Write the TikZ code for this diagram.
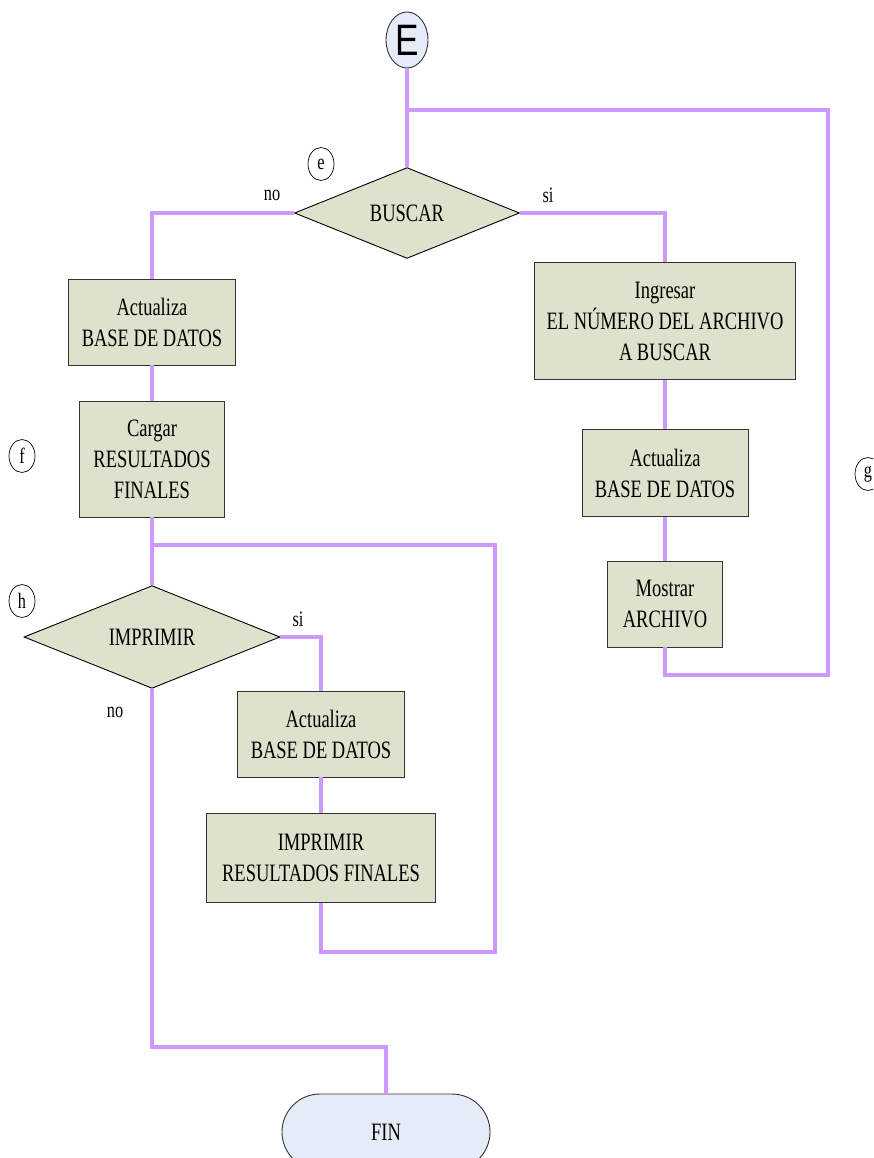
\documentclass[tikz,border=0pt]{standalone}
\usepackage{fontspec}
\setmainfont{Liberation Serif}[FakeStretch=0.74]
\newfontfamily\headfont{Liberation Sans}[FakeStretch=0.8]
\usetikzlibrary{shapes.geometric,shapes.misc}
\definecolor{flow}{HTML}{CC99FF}
\definecolor{boxfill}{HTML}{DEE1CB}
\definecolor{termfill}{HTML}{E6ECF7}
\definecolor{edge}{HTML}{333333}

\begin{document}
\begin{tikzpicture}[x=1pt,y=-1pt,
  txt/.style={font=\fontsize{25}{31}\selectfont},
  procbox/.style={txt, draw=edge, line width=0.9pt, fill=boxfill, align=center, inner sep=0pt},
  decision/.style={txt, diamond, draw=black, line width=0.9pt, fill=boxfill, inner sep=0pt},
  terminal/.style={draw=black!80, line width=0.9pt, fill=termfill, inner sep=0pt},
  link/.style={draw=flow, line width=3.6pt},
  tag/.style={ellipse, draw=black, line width=0.7pt, minimum width=26pt, minimum height=33pt, inner sep=0pt, font=\fontsize{22}{22}\selectfont},
  lbl/.style={font=\fontsize{22}{22}\selectfont, inner sep=0pt}]

\useasboundingbox (0,0) rectangle (873,1158);
\clip (0,0) rectangle (873,1158);

% terminals
\node[terminal, ellipse, minimum width=42pt, minimum height=56pt,
      font=\headfont\fontsize{44}{44}\selectfont] (E) at (407,40) {E};
\node[terminal, rounded rectangle, minimum width=208pt, minimum height=76pt, txt] (fin) at (386,1132) {FIN};

% decisions
\node[decision, minimum width=225pt, minimum height=82pt] (buscar) at (407,213) {BUSCAR};
\node[decision, minimum width=256pt, minimum height=98pt] (imprimir) at (152,637) {IMPRIMIR};

% process boxes
\node[procbox, minimum width=167pt, minimum height=86pt] (act1) at (152,322) {Actualiza\\BASE DE DATOS};
\node[procbox, minimum width=145pt, minimum height=116pt] (cargar) at (152,459) {Cargar\\RESULTADOS\\FINALES};
\node[procbox, minimum width=167pt, minimum height=86pt] (act2) at (321,734) {Actualiza\\BASE DE DATOS};
\node[procbox, minimum width=229pt, minimum height=89pt] (impres) at (321,858) {IMPRIMIR\\RESULTADOS FINALES};
\node[procbox, minimum width=261pt, minimum height=117pt] (ingresar) at (665,321) {Ingresar\\EL NÚMERO DEL ARCHIVO\\A BUSCAR};
\node[procbox, minimum width=166pt, minimum height=87pt] (act3) at (665,473) {Actualiza\\BASE DE DATOS};
\node[procbox, minimum width=115pt, minimum height=86pt] (mostrar) at (665,604) {Mostrar\\ARCHIVO};

% connector tags
\node[tag] (te) at (321,164) {e};
\node[tag] (tf) at (22,456) {f};
\node[tag] (tg) at (868,474) {g};
\node[tag] (th) at (22,601) {h};

% branch labels
\node[lbl] (bno) at (272,195) {no};
\node[lbl] (bsi) at (548,195) {si};
\node[lbl] (isi) at (298,619) {si};
\node[lbl] (ino) at (115,712) {no};

% junction points
\coordinate (jtop) at (407,110);
\coordinate (rloop) at (828,675);
\coordinate (jmid) at (152,545);
\coordinate (lloop) at (495,952);
\coordinate (jlow) at (152,1047);

% connectors
\draw[link] (E.south) -- (buscar.north);
\draw[link] (mostrar.south) |- (rloop) |- (jtop);
\draw[link] (buscar.west) -| (act1.north);
\draw[link] (buscar.east) -| (ingresar.north);
\draw[link] (ingresar.south) -- (act3.north);
\draw[link] (act3.south) -- (mostrar.north);
\draw[link] (act1.south) -- (cargar.north);
\draw[link] (cargar.south) -- (imprimir.north);
\draw[link] (jmid) -| (lloop) -| (impres.south);
\draw[link] (imprimir.east) -| (act2.north);
\draw[link] (act2.south) -- (impres.north);
\draw[link] (imprimir.south) -- (jlow) -| (fin.north);
\end{tikzpicture}
\end{document}
